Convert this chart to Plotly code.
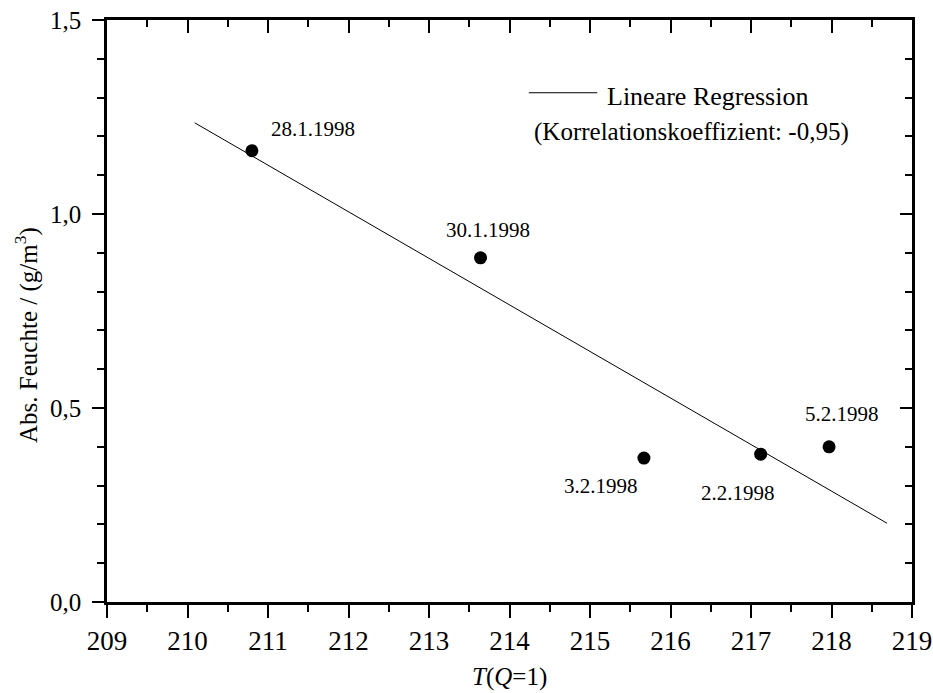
import plotly.graph_objects as go

# Data
dates = ["28.1.1998", "30.1.1998", "3.2.1998", "2.2.1998", "5.2.1998"]
t_q1 = [210.80, 213.64, 215.67, 217.12, 217.97]
abs_feuchte = [1.163, 0.887, 0.371, 0.381, 0.400]

# Regression line end points
reg_x = [210.09, 218.69]
reg_y = [1.235, 0.203]

# label offsets (pixels) for each point's date label
label_dx = [61, 7, -43, -23, 13]
label_dy = [22, 28, -28, -39, 33]

FONT = "Liberation Serif, Times New Roman, serif"

fig = go.Figure()
fig.add_trace(go.Scatter(x=reg_x, y=reg_y, mode="lines",
                         line=dict(color="black", width=1), showlegend=False))
fig.add_trace(go.Scatter(x=t_q1, y=abs_feuchte, mode="markers",
                         marker=dict(color="black", size=13), showlegend=False))
# invisible traces for mirrored axes
fig.add_trace(go.Scatter(x=[209, 219], y=[0, 1.5], xaxis="x2", yaxis="y2",
                         mode="markers", marker=dict(opacity=0), showlegend=False,
                         hoverinfo="skip"))

annotations = []
for d, x, y, dx, dy in zip(dates, t_q1, abs_feuchte, label_dx, label_dy):
    annotations.append(dict(x=x, y=y, xref="x", yref="y", text=d, showarrow=False,
                            xshift=dx, yshift=dy, font=dict(size=21, color="black", family=FONT)))

annotations += [
    dict(x=0.619, y=0.869, xref="paper", yref="paper", xanchor="left", yanchor="middle",
         text="Lineare Regression", showarrow=False, font=dict(size=26, color="black", family=FONT)),
    dict(x=0.528, y=0.808, xref="paper", yref="paper", xanchor="left", yanchor="middle",
         text="(Korrelationskoeffizient: -0,95)", showarrow=False,
         font=dict(size=25, color="black", family=FONT)),
    dict(x=-0.1, y=0.458, xref="paper", yref="paper", xanchor="center", yanchor="middle",
         text="Abs. Feuchte / (g/m<sup>3</sup>)", textangle=-90, showarrow=False,
         font=dict(size=25, color="black", family=FONT)),
    dict(x=0.5, y=-0.129, xref="paper", yref="paper", xanchor="center", yanchor="middle",
         text="<i>T</i>(<i>Q</i>=1)", showarrow=False, font=dict(size=25, color="black", family=FONT)),
]

axis_common = dict(showgrid=False, zeroline=False, showline=True, linecolor="black",
                   linewidth=2.5, tickcolor="black", tickwidth=2, automargin=False)

fig.update_layout(
    width=933, height=693,
    margin=dict(l=107, r=21, t=20, b=91, autoexpand=False),
    plot_bgcolor="white", paper_bgcolor="white",
    separators=",.",
    font=dict(family=FONT, color="black"),
    xaxis=dict(range=[209, 219], dtick=1, tick0=209, ticks="outside", ticklen=13,
               tickfont=dict(size=27, color="black", family=FONT),
               minor=dict(dtick=0.5, ticks="outside", ticklen=7, tickcolor="black", tickwidth=2),
               **axis_common),
    yaxis=dict(range=[0, 1.5], dtick=0.5, tick0=0, tickformat=".1f", ticks="outside", ticklen=12,
               tickfont=dict(size=25, color="black", family=FONT), ticklabelstandoff=6,
               minor=dict(dtick=0.1, ticks="outside", ticklen=7, tickcolor="black", tickwidth=2),
               **axis_common),
    xaxis2=dict(range=[209, 219], overlaying="x", side="top", anchor="y", dtick=1, tick0=209,
                ticks="inside", ticklen=13, showticklabels=False,
                minor=dict(dtick=0.5, ticks="inside", ticklen=7, tickcolor="black", tickwidth=2),
                **axis_common),
    yaxis2=dict(range=[0, 1.5], overlaying="y", side="right", anchor="x", dtick=0.5, tick0=0,
                ticks="inside", ticklen=12, showticklabels=False,
                minor=dict(dtick=0.1, ticks="inside", ticklen=7, tickcolor="black", tickwidth=2),
                **axis_common),
    annotations=annotations,
    shapes=[dict(type="line", xref="paper", yref="paper", x0=0.524, x1=0.609, y0=0.875, y1=0.875,
                 line=dict(color="black", width=1))],
    showlegend=False,
)

fig.write_html("out.html", config={"displayModeBar": False},
               post_script="document.body.style.margin='0';document.body.style.overflow='hidden';")
